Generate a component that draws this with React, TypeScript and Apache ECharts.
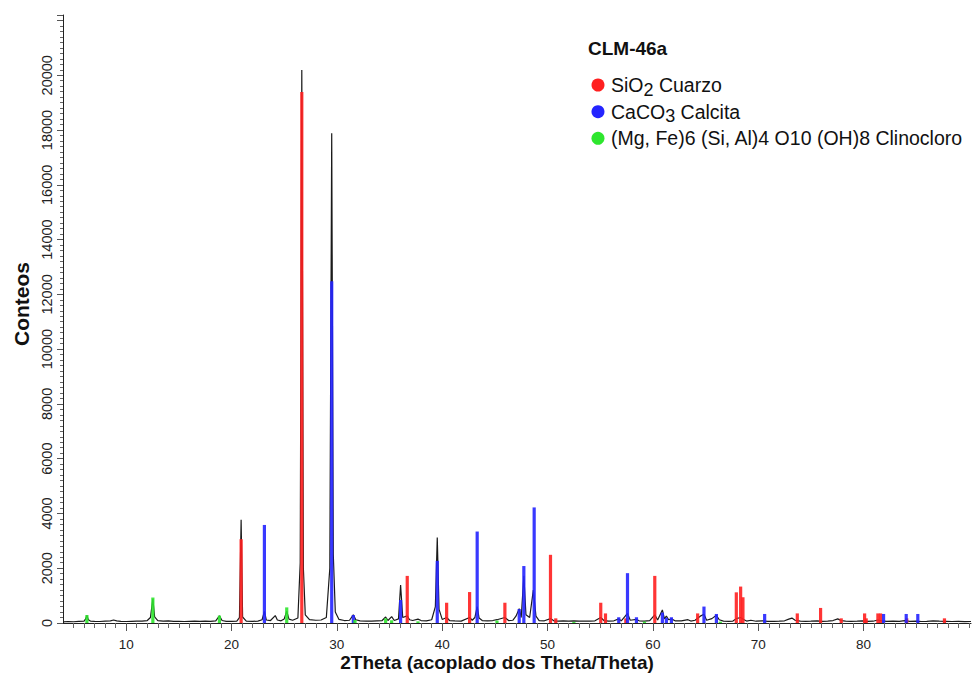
import React, { useEffect, useRef } from "react";
import * as echarts from "echarts";

const FONT = "'Liberation Sans', Arial, sans-serif";

const xTickLabels = [10, 20, 30, 40, 50, 60, 70, 80];
const xMinorTicks = [5, 6, 7, 8, 9, 11, 12, 13, 14, 15, 16, 17, 18, 19, 21, 22, 23, 24, 25, 26, 27, 28, 29, 31, 32, 33, 34, 35, 36, 37, 38, 39, 41, 42, 43, 44, 45, 46, 47, 48, 49, 51, 52, 53, 54, 55, 56, 57, 58, 59, 61, 62, 63, 64, 65, 66, 67, 68, 69, 71, 72, 73, 74, 75, 76, 77, 78, 79, 81, 82, 83, 84, 85, 86, 87, 88, 89, 90];
const yTickLabels = [0, 2000, 4000, 6000, 8000, 10000, 12000, 14000, 16000, 18000, 20000];

const seriesNames = ["SiO2 Cuarzo", "CaCO3 Calcita", "(Mg, Fe)6 (Si, Al)4 O10 (OH)8 Clinocloro"];
const legendTexts = ["SiO{sub|2} Cuarzo", "CaCO{sub|3} Calcita", "(Mg, Fe)6 (Si, Al)4 O10 (OH)8 Clinocloro"];
const legendTitle = "CLM-46a";
const xAxisTitle = "2Theta (acoplado dos Theta/Theta)";
const yAxisTitle = "Conteos";

// measured pattern [2theta, counts]
const measured: number[][] = [
  [4.0, 40], [4.5, 55], [5.0, 45], [5.5, 60], [6.0, 70], [6.15, 150], [6.27, 280], [6.4, 120], [6.6, 70],
  [7.0, 60], [7.5, 55], [8.0, 70], [8.5, 80], [8.8, 110], [9.1, 75], [9.5, 60], [10.0, 55], [10.5, 60],
  [11.0, 65], [11.5, 70], [12.0, 90], [12.3, 200], [12.53, 870], [12.7, 220], [13.0, 90], [13.5, 70],
  [14.0, 75], [14.5, 60], [15.0, 60], [15.5, 55], [16.0, 60], [16.5, 65], [17.0, 60], [17.5, 70], [18.0, 60],
  [18.5, 75], [18.85, 260], [19.1, 90], [19.5, 60], [20.0, 60], [20.5, 70], [20.75, 200], [20.91, 3770],
  [21.05, 220], [21.4, 70], [22.0, 60], [22.5, 70], [22.9, 120], [23.12, 420], [23.3, 110], [23.7, 90],
  [24.15, 270], [24.35, 110], [24.7, 80], [25.0, 150], [25.24, 430], [25.45, 140], [25.8, 100], [26.3, 180],
  [26.52, 2200], [26.67, 20190], [26.82, 2000], [27.0, 300], [27.4, 120], [28.0, 100], [28.5, 110], [29.0, 200],
  [29.33, 2000], [29.51, 17880], [29.66, 2500], [29.85, 400], [30.2, 130], [30.7, 90], [31.2, 100], [31.56, 300],
  [31.8, 120], [32.2, 80], [32.8, 70], [33.3, 70], [33.8, 80], [34.3, 90], [34.63, 220], [34.85, 90], [35.2, 230],
  [35.45, 90], [35.85, 150], [36.05, 1390], [36.25, 200], [36.68, 260], [36.9, 120], [37.2, 90], [37.7, 140],
  [38.0, 90], [38.5, 80], [39.0, 120], [39.35, 600], [39.53, 3120], [39.7, 500], [40.0, 130], [40.42, 200],
  [40.7, 90], [41.2, 80], [41.8, 70], [42.6, 200], [42.85, 100], [43.1, 200], [43.32, 600], [43.5, 180],
  [43.8, 90], [44.3, 80], [44.8, 90], [45.2, 120], [45.95, 200], [46.3, 90], [46.7, 100], [47.0, 250],
  [47.31, 520], [47.5, 200], [47.75, 1720], [47.95, 300], [48.3, 200], [48.65, 1200], [48.9, 250], [49.2, 90],
  [49.7, 80], [50.28, 160], [50.6, 80], [51.0, 70], [51.5, 80], [52.0, 70], [52.5, 75], [53.0, 70], [53.5, 65],
  [54.0, 70], [54.5, 80], [55.05, 200], [55.35, 90], [55.8, 70], [56.3, 80], [56.76, 150], [57.0, 80],
  [57.59, 350], [57.85, 100], [58.44, 130], [58.7, 80], [59.2, 70], [59.7, 90], [60.18, 300], [60.45, 110],
  [60.9, 475], [61.1, 150], [61.28, 250], [61.5, 120], [61.76, 150], [62.1, 80], [62.7, 75], [63.33, 120],
  [63.6, 70], [64.0, 100], [64.5, 250], [64.85, 320], [65.1, 100], [65.6, 160], [66.03, 280], [66.3, 120],
  [66.7, 70], [67.2, 60], [67.6, 70], [67.92, 160], [68.33, 200], [68.6, 130], [68.9, 70], [69.3, 100],
  [69.8, 65], [70.4, 80], [70.9, 60], [71.5, 60], [72.0, 65], [72.5, 80], [72.9, 140], [73.2, 180], [73.5, 100],
  [74.0, 70], [74.5, 60], [75.0, 65], [75.6, 80], [76.1, 60], [76.6, 70], [77.1, 90], [77.55, 150], [77.85, 90],
  [78.3, 70], [78.8, 60], [79.4, 65], [79.9, 80], [80.4, 60], [80.9, 65], [81.36, 110], [81.7, 80], [82.2, 60],
  [82.8, 65], [83.4, 60], [83.9, 90], [84.4, 60], [85.0, 70], [85.5, 55], [86.0, 60], [86.6, 80], [87.2, 65],
  [87.8, 60], [88.4, 55], [89.0, 60], [89.6, 50], [90.2, 55],
];

// reference sticks [2theta, counts]
const quartz: number[][] = [
  [20.91, 3060], [26.67, 19390], [36.68, 1720], [40.42, 740], [42.6, 1130], [45.95, 740], [50.28, 2490],
  [50.78, 170], [55.05, 740], [55.5, 350], [57.43, 170], [60.18, 1720], [64.25, 350], [67.92, 1120],
  [68.33, 1330], [68.55, 940], [73.71, 350], [75.92, 550], [77.88, 170], [80.1, 350], [80.25, 170],
  [81.36, 350], [81.61, 350], [84.1, 170], [87.68, 170],
];
const calcite: number[][] = [
  [23.12, 3580], [29.51, 12480], [31.56, 290], [36.05, 840], [39.53, 2270], [43.32, 3340], [47.31, 510],
  [47.75, 2080], [48.73, 4220], [56.76, 210], [57.59, 1820], [58.44, 210], [60.9, 380], [61.28, 190],
  [61.76, 210], [64.85, 600], [66.03, 330], [70.61, 330], [81.9, 330], [84.05, 330], [85.15, 330],
];
const clinochlore: number[][] = [
  [6.27, 290], [12.53, 930], [18.85, 270], [25.24, 570], [31.72, 110], [34.63, 170], [35.2, 100],
  [37.7, 60], [45.2, 90], [52.5, 40], [59.2, 50], [66.4, 50],
];

const stickColors = ["#ff1f1f", "#2424ff", "#2ee62e"];

function stickSeries(name: string, data: number[][], color: string) {
  return {
    name,
    type: "custom",
    data,
    encode: { x: 0, y: 1 },
    itemStyle: { color },
    z: 3,
    renderItem: (_params: any, api: any) => {
      const x = api.value(0);
      const y = api.value(1);
      const p0 = api.coord([x, 0]);
      const p1 = api.coord([x, y]);
      return {
        type: "rect",
        shape: { x: p0[0] - 1.6, y: p1[1], width: 3.2, height: p0[1] - p1[1] },
        style: { fill: color, opacity: 0.9 },
      };
    },
  };
}

const legendRowsY = [85, 111.7, 138.3];

export default function App() {
  const ref = useRef<HTMLDivElement>(null);
  useEffect(() => {
    document.body.style.margin = "0";
    const chart = echarts.init(ref.current!, null, { renderer: "svg" });
    const legendChildren: any[] = [
      {
        type: "text",
        x: 588,
        y: 48,
        style: {
          text: legendTitle,
          font: `bold 19px ${FONT}`,
          fill: "#111",
          align: "left",
          verticalAlign: "middle",
        },
      },
    ];
    legendTexts.forEach((t, i) => {
      legendChildren.push({
        type: "circle",
        shape: { cx: 598, cy: legendRowsY[i], r: 6.5 },
        style: { fill: stickColors[i] },
      });
      legendChildren.push({
        type: "text",
        x: 611,
        y: legendRowsY[i],
        style: {
          text: t,
          font: `19.5px ${FONT}`,
          fill: "#111",
          align: "left",
          verticalAlign: "middle",
          rich: {
            sub: { fontFamily: FONT, fontSize: 18, fill: "#111", padding: [9, 0, 0, 0] },
          },
        },
      });
    });

    chart.setOption({
      animation: false,
      backgroundColor: "#ffffff",
      textStyle: { fontFamily: FONT },
      graphic: [
        {
          type: "text",
          x: 21,
          y: 304,
          rotation: Math.PI / 2,
          style: {
            text: yAxisTitle,
            font: `bold 21px ${FONT}`,
            fill: "#111",
            align: "center",
            verticalAlign: "middle",
          },
        },
        {
          type: "text",
          x: 497,
          y: 662,
          style: {
            text: xAxisTitle,
            font: `bold 19px ${FONT}`,
            fill: "#111",
            align: "center",
            verticalAlign: "middle",
          },
        },
        { type: "group", children: legendChildren },
      ],
      grid: { left: 63, right: 9, top: 15, bottom: 52 },
      xAxis: [
        {
          type: "value",
          min: 4,
          max: 90.2,
          splitLine: { show: false },
          axisLine: { lineStyle: { color: "#222", width: 1 } },
          axisTick: { customValues: xTickLabels, length: 8, lineStyle: { color: "#555" } },
          axisLabel: { customValues: xTickLabels, margin: 14, fontSize: 13.5, color: "#222", fontFamily: FONT },
        },
        {
          type: "value",
          min: 4,
          max: 90.2,
          position: "bottom",
          splitLine: { show: false },
          axisLine: { show: false },
          axisTick: { customValues: xMinorTicks, length: 5, lineStyle: { color: "#666" } },
          axisLabel: { show: false },
        },
      ],
      yAxis: {
        type: "value",
        min: 0,
        max: 22200,
        interval: 2000,
        splitLine: { show: false },
        axisLine: { show: true, lineStyle: { color: "#222", width: 1 } },
        axisTick: { show: true, length: 6, lineStyle: { color: "#555" } },
        minorTick: { show: true, splitNumber: 10, length: 3, lineStyle: { color: "#666" } },
        minorSplitLine: { show: false },
        axisLabel: {
          customValues: yTickLabels,
          formatter: (v: number) => String(v),
          rotate: 90,
          margin: 9,
          fontSize: 14.5,
          color: "#222",
          fontFamily: FONT,
        },
      },
      series: [
        {
          name: "measured",
          type: "line",
          data: measured,
          showSymbol: false,
          symbol: "none",
          lineStyle: { color: "#1a1a1a", width: 1.2 },
          z: 2,
        },
        stickSeries(seriesNames[0], quartz, stickColors[0]),
        stickSeries(seriesNames[1], calcite, stickColors[1]),
        stickSeries(seriesNames[2], clinochlore, stickColors[2]),
      ],
    });
    return () => chart.dispose();
  }, []);
  return <div ref={ref} style={{ position: "fixed", left: 0, top: 0, width: 980, height: 675 }} />;
}
